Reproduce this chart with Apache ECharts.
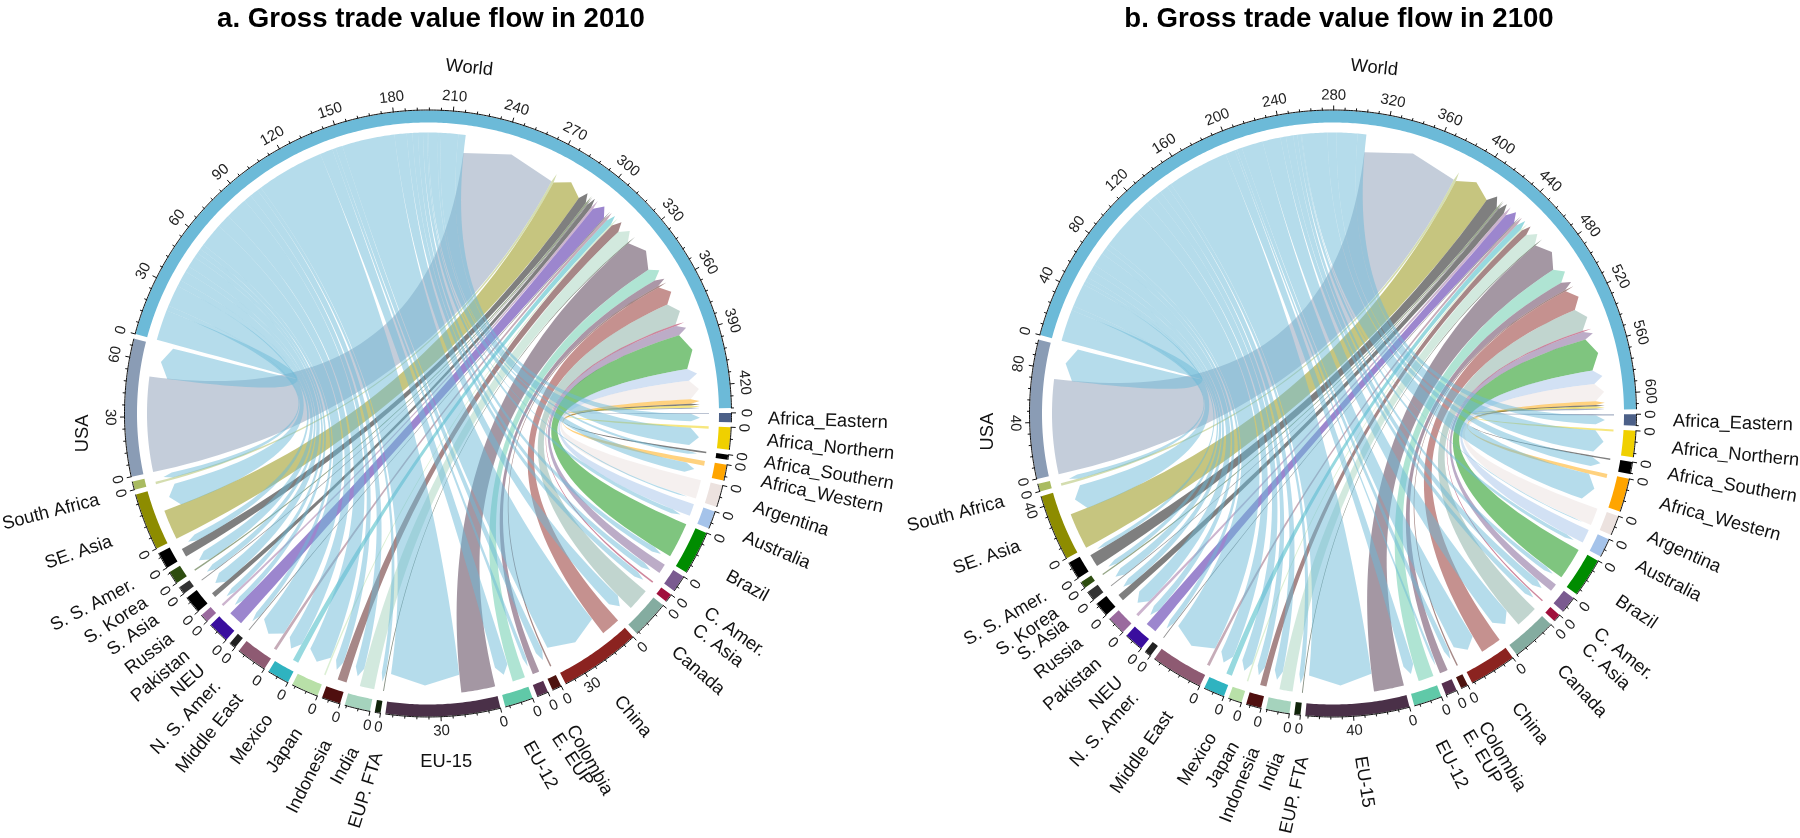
<!DOCTYPE html>
<html><head><meta charset="utf-8">
<style>html,body{margin:0;padding:0;background:#fff}#c{width:1800px;height:838px}</style>
<script src="https://cdn.jsdelivr.net/npm/echarts@6/dist/echarts.min.js"></script>
</head><body><div id="c"></div>
<script>
// ---------- data ----------
const regions = ['Africa_Eastern','Africa_Northern','Africa_Southern','Africa_Western','Argentina','Australia','Brazil','C. Amer.','C. Asia','Canada','China','Colombia','E. EUP','EU-12','EU-15','EUP. FTA','India','Indonesia','Japan','Mexico','Middle East','N. S. Amer.','NEU','Pakistan','Russia','S. Asia','S. Korea','S. S. Amer.','SE. Asia','South Africa','USA'];
const regionColors = ['#4c6088','#f0d000','#000000','#ffa500','#ece2df','#a5c3ea','#008c00','#7a5a90','#a0103c','#84aca0','#8b2320','#4e1410','#57304f','#60c9a8','#4a3048','#10240a','#a5d3bd','#4f0f0f','#b8e0a8','#2fb3c0','#8e5a72','#222222','#3a0e9e','#9a6a9e','#000000','#333333','#2e4d10','#000000','#8d8c00','#a9bb60','#8a9cb5'];
const worldColor = '#6cbad8';
// flows in the units of each panel's World axis
const toWorld2010   = [0.5,1.3,0.9,2.6,10.3,6.6,19.3,5.3,0.9,12.1,10.5,0.8,3.7,6.9,18.5,0.5,7.9,5,0.8,3.2,1.6,0.5,7.9,1.3,2.6,0.5,0.8,4.7,16.5,1.3,51.7];
const fromWorld2010 = [4.2,10,1.7,5.5,0.8,2.4,2.9,3.2,3.3,7.1,30.6,4,2.1,7.4,39.3,2.4,5,4.5,12.9,7.9,14,2.9,2.9,2.9,6.3,3.4,5.8,3.7,12.5,2.9,17.7];
const worldTotal2010 = 432, worldOut2010 = 217.7;
const toWorld2100   = [1.1,1.5,1.1,3,13.4,10.5,24.6,6,1.1,17.2,16.1,1.1,6.3,11.9,23.2,0.7,10.1,4.9,1.1,4.5,2.2,0.7,8.6,2.2,5.2,0.7,1.1,9.7,28,1.9,72.8];
const fromWorld2100 = [7.1,17.2,7.5,20.9,0.7,3,3.4,6,4.5,14.9,17.6,4.1,1.9,8.2,50.8,3.7,6.7,6,8.6,10.5,35.1,4.1,5.2,11.2,5.2,6.3,3.7,3,19.4,3.7,26.1];
const worldTotal2100 = 612, worldOut2100 = 305;
// label placement: geometric angle (deg), radius, rotation (deg)
const labelTheta2010 = [-0.9,-4.6,-8.3,-11.6,-16,-21.3,-28.4,-35.5,-38.9,-43.9,-56.4,-65.5,-68.4,-73.2,-87,-98.4,-102.3,-107,-112.2,-117.6,-123.6,-127.9,-131.5,-135,-138.9,-142.9,-146.3,-150,-158,-165.3,-176.7];
const labelRadius2010 = [340,340,340,340,339,339,340,341,342,341,342,344,346,344,349,343,343,343,342,342,340,342,340,340,340,340,339,340,341,340,346];
const labelRot2010 = [-2,-6,-9.5,-12,-18,-23,-29,-35.5,-37,-41,-50,-61,-56,-60.5,0,72.7,61,63,55.6,53,51,47,41.8,40,37.6,35,32.7,28,19,14.4,90];
const labelTheta2100 = [-1.3,-5.9,-10.3,-15.4,-21.3,-26.5,-33.2,-39.7,-42.9,-48.3,-58,-64.2,-67.2,-72,-85.5,-94.9,-98.9,-103.1,-106.5,-110.5,-118.6,-125,-128.6,-133.3,-137.9,-141.8,-144.3,-147.7,-157.1,-165,-177];
const labelRadius2100 = [340,340.5,340,339,338.5,339.4,339.6,341.5,342.6,341,343.6,344,345,345,344,344.5,344,343.8,344,343,341.6,343.6,341,341,340,339,340,340,340,340.6,346];
const labelRot2100 = [-2,-5.5,-10,-15,-24,-27,-34,-39,-43,-47,-52,-60,-59,-63,-81,77,68,68,60,58,55,48,44,41,38,36,34.5,30,19.5,14.5,90];
const worldLabel = 'World';

// ---------- drawing ----------
const FONT = '"Liberation Sans", Arial, sans-serif';
const R_OUT = 303, R_IN = 291, R_FLAT = 281, R_CORNER = 263, R_TIP = 272, GAP = 0.93;
const rgba = (hex, a) => { const n = parseInt(hex.slice(1), 16); return `rgba(${n>>16},${(n>>8)&255},${n&255},${a})`; };

function buildPanel(i, o) {
  const n = regions.length;
  const sumOut = o.toWorld.reduce((a,b)=>a+b,0), sumIn = o.fromWorld.reduce((a,b)=>a+b,0);
  const k = (360 - (n + 1) * GAP) / (o.worldTotal + sumOut + sumIn);
  const sectors = [{ name: worldLabel, color: worldColor, value: o.worldTotal, s: 0, e: o.worldTotal * k }];
  let p = sectors[0].e + GAP;
  const links = [];
  const blueScale = o.worldOut / sumIn, colScale = (o.worldTotal - o.worldOut) / sumOut;
  // region sectors: own flow first, then the flow received
  const pos = [];
  regions.forEach((name, j) => {
    const v = o.toWorld[j] + o.fromWorld[j];
    const s = p, m = s + o.toWorld[j] * k, e = m + o.fromWorld[j] * k;
    sectors.push({ name, color: regionColors[j], value: v, s, e });
    pos.push({ s, m, e });
    p = e + GAP;
  });
  // order on the World sector runs backwards through the regions
  let wBlue = 0, wCol = o.worldOut * k;
  for (let j = n - 1; j >= 0; j--) {
    const wb = o.fromWorld[j] * blueScale * k, wc = o.toWorld[j] * colScale * k;
    links.push({ kind: 'col', j, w1: wCol, w2: wCol + wc, a1: pos[j].s, a2: pos[j].m });
    wCol += wc;
    links.push({ kind: 'blue', j, w1: wBlue, w2: wBlue + wb, a1: pos[j].m, a2: pos[j].e });
    wBlue += wb;
  }
  links.sort((a, b) => (a.kind === b.kind ? 0 : a.kind === 'col' ? -1 : 1));

  const bez = (api, a, ra, b, rb) => {
    const A = api.coord([ra, a]), B = api.coord([rb, b]), C = api.coord([0, a]), pts = [];
    for (let t = 0; t <= 1.0001; t += 1 / 48) {
      const u = 1 - t;
      pts.push([u*u*A[0] + 2*u*t*C[0] + t*t*B[0], u*u*A[1] + 2*u*t*C[1] + t*t*B[1]]);
    }
    return pts;
  };
  const arc = (api, a, b, r) => {
    const pts = [], steps = Math.max(1, Math.ceil(Math.abs(b - a) / 0.5));
    for (let q = 0; q <= steps; q++) pts.push(api.coord([r, a + (b - a) * q / steps]));
    return pts;
  };
  const base = { type: 'custom', coordinateSystem: 'polar', polarIndex: i, silent: true, animation: false, clip: false };
  const ribbon = {
    ...base, z: 2,
    data: links.map(() => [0, 0]),
    renderItem(params, api) {
      const L = links[params.dataIndex];
      let pts;
      if (L.kind === 'col') {
        pts = [api.coord([R_CORNER, L.w1]), api.coord([R_TIP, (L.w1 + L.w2) / 2])]
          .concat(bez(api, L.w2, R_CORNER, L.a1, R_FLAT))
          .concat(arc(api, L.a1, L.a2, R_FLAT))
          .concat(bez(api, L.a2, R_FLAT, L.w1, R_CORNER));
      } else {
        pts = arc(api, L.w1, L.w2, R_FLAT)
          .concat(bez(api, L.w2, R_FLAT, L.a1, R_CORNER))
          .concat([api.coord([R_TIP, (L.a1 + L.a2) / 2])])
          .concat(bez(api, L.a2, R_CORNER, L.w1, R_FLAT));
      }
      const color = L.kind === 'col' ? regionColors[L.j] : worldColor;
      return { type: 'polygon', shape: { points: pts }, style: { fill: rgba(color, 0.5) } };
    }
  };
  const ring = {
    ...base, z: 3,
    data: sectors.map(() => [0, 0]),
    renderItem(params, api) {
      const S = sectors[params.dataIndex], children = [];
      children.push({ type: 'polygon',
        shape: { points: arc(api, S.s, S.e, R_OUT).concat(arc(api, S.e, S.s, R_IN)) },
        style: { fill: S.color } });
      children.push({ type: 'polyline', shape: { points: arc(api, S.s, S.e, R_OUT + 0.5) },
        style: { stroke: '#111', lineWidth: 1, fill: 'none' } });
      for (let v = 0; v <= S.value + 1e-6; v += o.minor) {
        const a = S.s + v * k, major = Math.round(v / o.minor) % o.perMajor === 0;
        const P = api.coord([R_OUT, a]), Q = api.coord([R_OUT + (major ? 5 : 3), a]);
        children.push({ type: 'line', shape: { x1: P[0], y1: P[1], x2: Q[0], y2: Q[1] },
          style: { stroke: '#111', lineWidth: 1 } });
        if (major) {
          const T = api.coord([R_OUT + 15, a]);
          let th = o.start - a; let rot = th - 90;
          while (rot > 90) rot -= 180; while (rot <= -90) rot += 180;
          children.push({ type: 'text', x: T[0], y: T[1], rotation: rot * Math.PI / 180,
            style: { text: String(Math.round(v)), fill: '#222', font: '15px ' + FONT, align: 'center', verticalAlign: 'middle' } });
        }
      }
      return { type: 'group', children };
    }
  };
  const textList = regions.map((name, j) => {
    const th = o.labelTheta[j];
    const tang = name === 'USA' || (i === 0 && name === 'EU-15');
    return { name, p: o.start - th, r: o.labelRadius[j], rot: o.labelRot[j],
      align: tang ? 'center' : (th > -90 ? 'left' : 'right') };
  });
  textList.push({ name: worldLabel, p: o.start - 83.2, r: 348, rot: -6, align: 'center' });
  const labels = {
    ...base, z: 4,
    data: textList.map(() => [0, 0]),
    renderItem(params, api) {
      const t = textList[params.dataIndex], P = api.coord([t.r, t.p]);
      return { type: 'text', x: P[0], y: P[1], rotation: t.rot * Math.PI / 180,
        style: { text: t.name, fill: '#111', font: '18.3px ' + FONT, align: t.align, verticalAlign: 'middle' } };
    }
  };
  return {
    polar: { center: o.center, radius: [0, 360] },
    angleAxis: { polarIndex: i, type: 'value', min: 0, max: 360, startAngle: o.start, clockwise: true, show: false },
    radiusAxis: { polarIndex: i, type: 'value', min: 0, max: 360, show: false },
    series: [ribbon, ring, labels]
  };
}

const A = buildPanel(0, { center: [428, 413.5], start: 164.8, minor: 6, perMajor: 5,
  toWorld: toWorld2010, fromWorld: fromWorld2010, worldTotal: worldTotal2010, worldOut: worldOut2010,
  labelTheta: labelTheta2010, labelRadius: labelRadius2010, labelRot: labelRot2010 });
const B = buildPanel(1, { center: [1333, 413.5], start: 165, minor: 8, perMajor: 5,
  toWorld: toWorld2100, fromWorld: fromWorld2100, worldTotal: worldTotal2100, worldOut: worldOut2100,
  labelTheta: labelTheta2100, labelRadius: labelRadius2100, labelRot: labelRot2100 });

const chart = echarts.init(document.getElementById('c'), null, { renderer: 'canvas' });
const titleStyle = { fontFamily: FONT, fontWeight: 'bold', fontSize: 27.6, color: '#000' };
chart.setOption({
  animation: false,
  backgroundColor: '#fff',
  title: [
    { text: 'a. Gross trade value flow in 2010', left: 426, top: 0, textAlign: 'center', textStyle: titleStyle },
    { text: 'b. Gross trade value flow in 2100', left: 1334, top: 0, textAlign: 'center', textStyle: titleStyle }
  ],
  polar: [A.polar, B.polar],
  angleAxis: [A.angleAxis, B.angleAxis],
  radiusAxis: [A.radiusAxis, B.radiusAxis],
  series: A.series.concat(B.series)
});
</script></body></html>
